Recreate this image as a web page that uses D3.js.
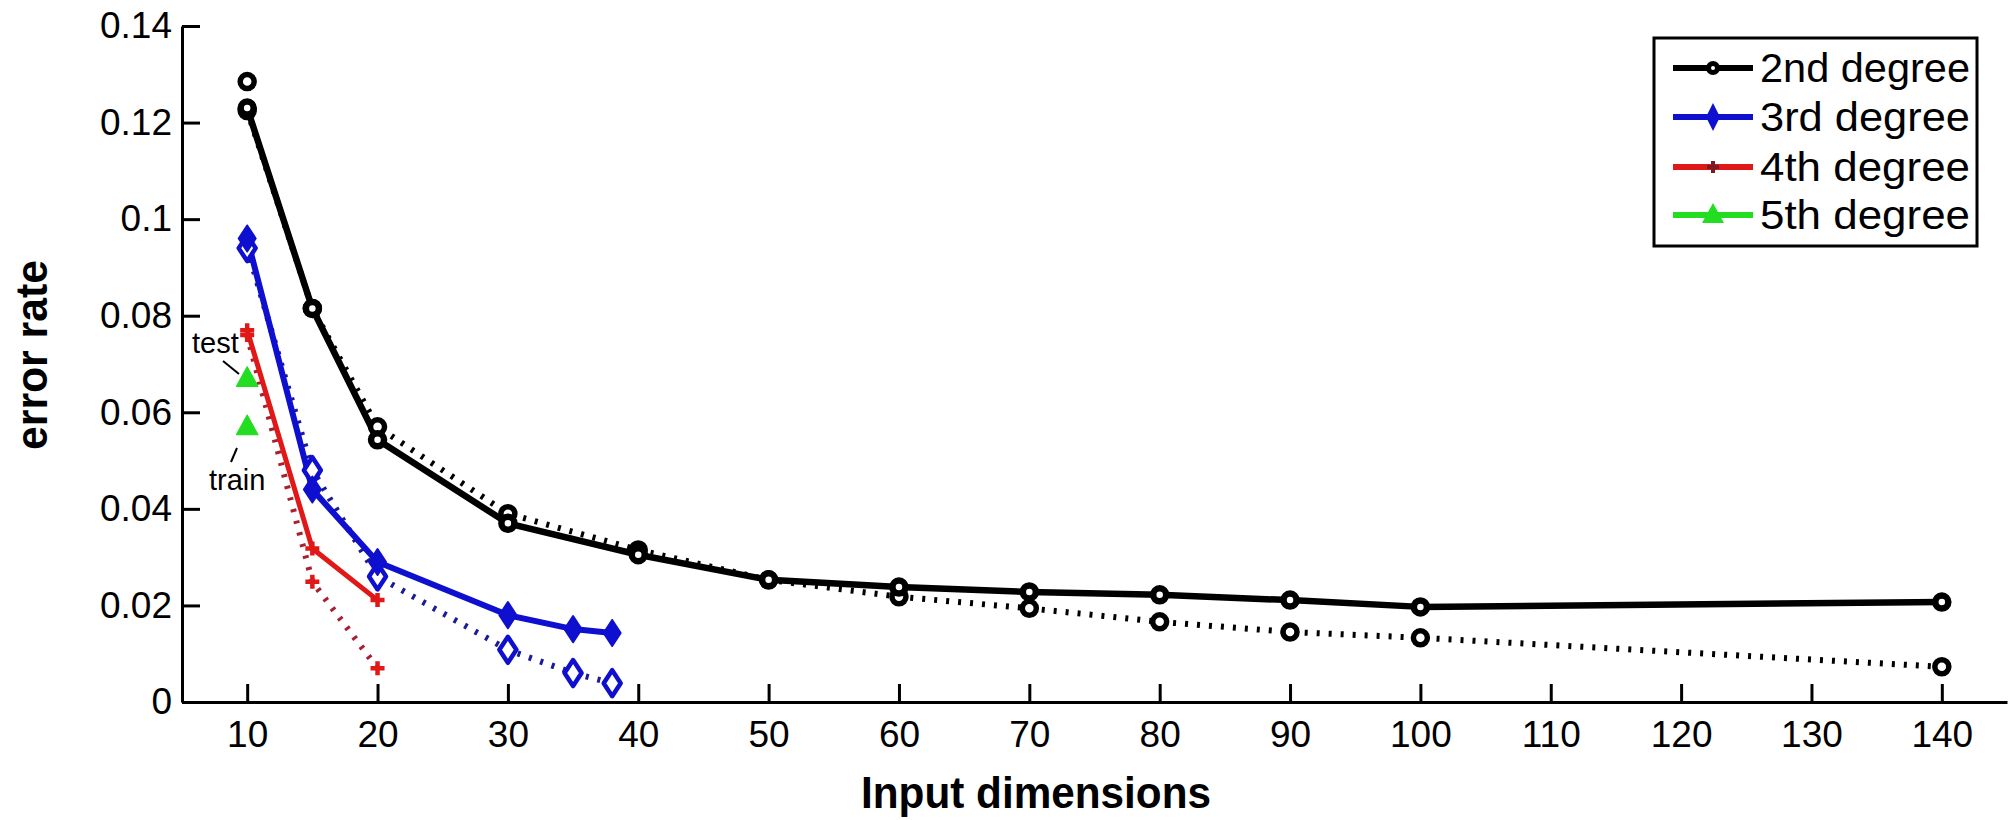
<!DOCTYPE html>
<html>
<head>
<meta charset="utf-8">
<script src="https://cdn.jsdelivr.net/npm/d3@7"></script>
<style>
  html, body { margin: 0; padding: 0; background: #fff; }
  svg { display: block; }
  .tick text { font-family: "Liberation Sans", Arial, sans-serif; font-size: 37px; fill: #000; }
</style>
</head>
<body>
<svg id="chart" width="2016" height="820"></svg>
<script>
// ---- data ----
const xTicks = [10, 20, 30, 40, 50, 60, 70, 80, 90, 100, 110, 120, 130, 140];
const yTicks = [0, 0.02, 0.04, 0.06, 0.08, 0.1, 0.12, 0.14];
const yTickLabels = ["0", "0.02", "0.04", "0.06", "0.08", "0.1", "0.12", "0.14"];

const seriesNames = ["2nd degree", "3rd degree", "4th degree", "5th degree"];

// 2nd degree
const dims2 = [10, 15, 20, 30, 40, 50, 60, 70, 80, 90, 100, 140];
const test2 = [0.123, 0.0815, 0.0543, 0.037, 0.0305, 0.0253, 0.0238, 0.0228, 0.0222, 0.0211, 0.0197, 0.0207];
const train2 = [0.1225, 0.0815, 0.057, 0.039, 0.0315, 0.0253, 0.0218, 0.0194, 0.0166, 0.0145, 0.0133, 0.0073];
const extraDims2 = [10];
const extraVals2 = [0.1285];

// 3rd degree
const dims3 = [10, 15, 20, 30, 35, 38];
const test3 = [0.096, 0.044, 0.029, 0.018, 0.0151, 0.0143];
const train3 = [0.094, 0.048, 0.026, 0.0108, 0.006, 0.0039];

// 4th degree
const dims4 = [10, 15, 20];
const test4 = [0.077, 0.0318, 0.0211];
const train4 = [0.076, 0.0249, 0.007];

// 5th degree
const dims5 = [10];
const test5 = [0.067];
const train5 = [0.057];

const annotations = ["test", "train"];
const xLabel = "Input dimensions";
const yLabel = "error rate";

// ---- drawing ----
const svg = d3.select("#chart");
const x = d3.scaleLinear().domain([5, 145]).range([182, 2007]);
const y = d3.scaleLinear().domain([0, 0.14]).range([702, 26]);

const colors = { k: "#000000", b: "#0f0fd0", r: "#e01818", g: "#22dd22" };
const dotColors = { k: "#000000", b: "#1a1a9a", r: "#a82030", g: "#22dd22" };

// axes
const xAxis = d3.axisBottom(x).tickValues(xTicks).tickSizeInner(-18).tickSizeOuter(0).tickPadding(19);
const yAxis = d3.axisLeft(y).tickValues(yTicks).tickFormat((d, i) => yTickLabels[i]).tickSizeInner(-18).tickSizeOuter(0).tickPadding(10);

const gx = svg.append("g").attr("transform", "translate(0,702)").call(xAxis);
const gy = svg.append("g").attr("transform", "translate(182,0)").call(yAxis);
[gx, gy].forEach(g => {
  g.select(".domain").attr("stroke", "#000").attr("stroke-width", 3);
  g.selectAll(".tick line").attr("stroke", "#000").attr("stroke-width", 3);
});

const line = d3.line().x(d => x(d[0])).y(d => y(d[1]));
const zip = (a, b) => a.map((v, i) => [v, b[i]]);

function drawLine(dims, vals, color, dotted, width) {
  svg.append("path")
    .datum(zip(dims, vals))
    .attr("d", line)
    .attr("fill", "none")
    .attr("stroke", color)
    .attr("stroke-width", width)
    .attr("stroke-linejoin", "round")
    .attr("stroke-dasharray", dotted ? "3 9" : null);
}

function drawCircles(dims, vals, color, fill, r, sw) {
  svg.append("g").selectAll("circle").data(zip(dims, vals)).join("circle")
    .attr("cx", d => x(d[0])).attr("cy", d => y(d[1])).attr("r", r)
    .attr("fill", fill).attr("stroke", color).attr("stroke-width", sw);
}
function diamondPath(cx, cy, w, h) {
  return `M${cx},${cy - h / 2}L${cx + w / 2},${cy}L${cx},${cy + h / 2}L${cx - w / 2},${cy}Z`;
}
function drawDiamonds(dims, vals, color, fill, w, h, sw) {
  svg.append("g").selectAll("path").data(zip(dims, vals)).join("path")
    .attr("d", d => diamondPath(x(d[0]), y(d[1]), w, h))
    .attr("fill", fill).attr("stroke", color).attr("stroke-width", sw).attr("stroke-linejoin", "round");
}
function plusPath(cx, cy, s) {
  return `M${cx - s},${cy}L${cx + s},${cy}M${cx},${cy - s}L${cx},${cy + s}`;
}
function drawPlus(dims, vals, color, s, sw) {
  svg.append("g").selectAll("path").data(zip(dims, vals)).join("path")
    .attr("d", d => plusPath(x(d[0]), y(d[1]), s))
    .attr("fill", "none").attr("stroke", color).attr("stroke-width", sw);
}
function triPath(cx, cy, w, h) {
  return `M${cx},${cy - h * 0.6}L${cx + w / 2},${cy + h * 0.4}L${cx - w / 2},${cy + h * 0.4}Z`;
}
function drawTriangles(dims, vals, color, w, h) {
  svg.append("g").selectAll("path").data(zip(dims, vals)).join("path")
    .attr("d", d => triPath(x(d[0]), y(d[1]), w, h))
    .attr("fill", color).attr("stroke", color).attr("stroke-width", 1);
}

// lines: dotted first then solid
drawLine(dims2, train2, dotColors.k, true, 6);
drawLine(dims3, train3, dotColors.b, true, 6);
drawLine(dims4, train4, dotColors.r, true, 6);
drawLine(dims2, test2, colors.k, false, 6.5);
drawLine(dims3, test3, colors.b, false, 6);
drawLine(dims4, test4, colors.r, false, 5);

// markers
drawCircles(dims2, train2, colors.k, "#fff", 7, 5.5);
drawCircles(extraDims2, extraVals2, colors.k, "#fff", 7, 5.5);
drawCircles(dims2, test2, colors.k, "#fff", 6.5, 6.5);
drawDiamonds(dims3, train3, colors.b, "#fff", 17, 26, 4.5);
drawDiamonds(dims3, test3, colors.b, colors.b, 17, 26, 2);
drawPlus(dims4, train4, colors.r, 7, 4.5);
drawPlus(dims4, test4, colors.r, 7, 4.5);
drawTriangles(dims5, test5, colors.g, 22, 20);
drawTriangles(dims5, train5, colors.g, 22, 20);

// annotations
const annFont = "Liberation Sans, Arial, sans-serif";
svg.append("text").attr("x", 192).attr("y", 353).attr("font-family", annFont).attr("font-size", 29).text(annotations[0]);
svg.append("line").attr("x1", 223).attr("y1", 361).attr("x2", 239).attr("y2", 374).attr("stroke", "#000").attr("stroke-width", 2);
svg.append("text").attr("x", 209).attr("y", 490).attr("font-family", annFont).attr("font-size", 29).text(annotations[1]);
svg.append("line").attr("x1", 231).attr("y1", 462).attr("x2", 237).attr("y2", 448).attr("stroke", "#000").attr("stroke-width", 2);

// axis labels
svg.append("text")
  .attr("x", 1036).attr("y", 808)
  .attr("text-anchor", "middle")
  .attr("font-family", "Liberation Sans, Arial, sans-serif")
  .attr("font-weight", "bold").attr("font-size", 44)
  .attr("textLength", 350).attr("lengthAdjust", "spacingAndGlyphs")
  .text(xLabel);
svg.append("text")
  .attr("transform", "translate(47,355) rotate(-90)")
  .attr("text-anchor", "middle")
  .attr("font-family", "Liberation Sans, Arial, sans-serif")
  .attr("font-weight", "bold").attr("font-size", 44)
  .attr("textLength", 190).attr("lengthAdjust", "spacingAndGlyphs")
  .text(yLabel);

// legend
const lg = svg.append("g");
lg.append("rect").attr("x", 1654).attr("y", 38).attr("width", 323).attr("height", 208)
  .attr("fill", "#fff").attr("stroke", "#000").attr("stroke-width", 3);
const rowY = [68, 117, 167, 215];
const legColors = [colors.k, colors.b, colors.r, colors.g];
seriesNames.forEach((name, i) => {
  const cy = rowY[i];
  lg.append("line").attr("x1", 1673).attr("x2", 1753).attr("y1", cy).attr("y2", cy)
    .attr("stroke", legColors[i]).attr("stroke-width", 6);
  if (i === 0) {
    lg.append("circle").attr("cx", 1713).attr("cy", cy).attr("r", 7).attr("fill", "#000");
    lg.append("circle").attr("cx", 1713).attr("cy", cy).attr("r", 2).attr("fill", "#fff");
  } else if (i === 1) {
    lg.append("path").attr("d", diamondPath(1713, cy, 14, 28)).attr("fill", colors.b);
  } else if (i === 2) {
    lg.append("path").attr("d", plusPath(1713, cy, 6)).attr("stroke", "#7a1a22").attr("stroke-width", 4);
  } else {
    lg.append("path").attr("d", triPath(1713, cy, 22, 20)).attr("fill", colors.g);
  }
  lg.append("text").attr("x", 1760).attr("y", cy + 14)
    .attr("font-family", "Liberation Sans, Arial, sans-serif").attr("font-size", 40)
    .attr("textLength", 210).attr("lengthAdjust", "spacingAndGlyphs")
    .text(name);
});
</script>
</body>
</html>
